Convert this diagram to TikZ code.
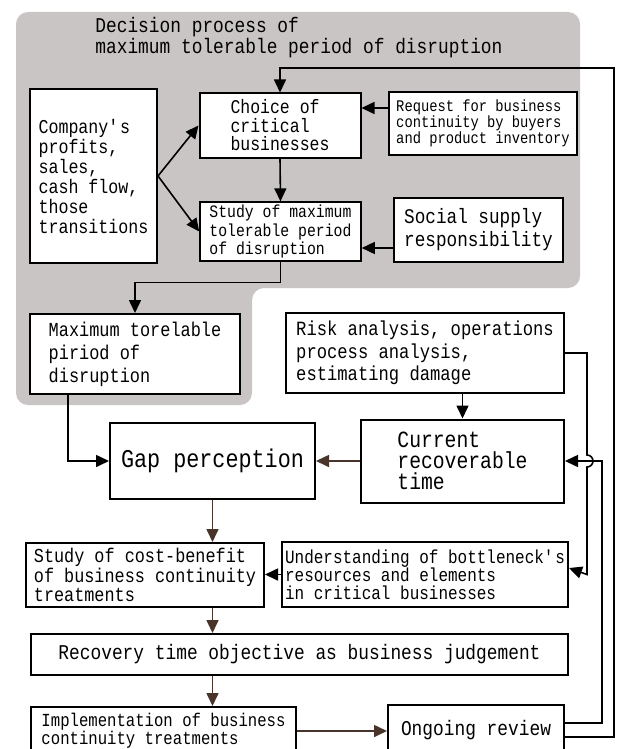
\documentclass[tikz,border=0pt]{standalone}
\usepackage{fontspec}
\newfontfamily\gothic{Liberation Mono}[FakeStretch=0.85]
\usepackage{tikz}
\usetikzlibrary{arrows.meta,positioning}
\definecolor{areagray}{RGB}{201,197,197}
\definecolor{flowbrown}{RGB}{72,52,42}
\newcommand{\fsz}[2]{\gothic\fontsize{#1}{#2}\selectfont}

\begin{document}
\begin{tikzpicture}[x=0.5pt, y=-0.5pt,
                box/.style={draw, line width=1pt, fill=white, inner sep=1.5pt, align=left},
                arr/.style={-{Triangle[length=6.5pt,width=6pt]}, line width=0.8pt},
                barr/.style={arr, flowbrown}
            ]
            \useasboundingbox (0,0) rectangle (618,749);

            % shaded decision area
            \fill[areagray, rounded corners=6pt] (16,12) -- (580,12) -- (580,288)
                -- (252,288) -- (252,405) -- (16,405) -- cycle;
            \node[anchor=west, inner sep=0pt, align=left, font=\fsz{10.5}{9.2}] (title) at (95,37.5)
                {Decision process of\\maximum tolerable period of disruption};

            \node[box, minimum width=63.5pt, minimum height=87pt, font=\fsz{9.8}{10}] (comp) at (93.5,176)
                {Company\textquotesingle s\\profits,\\sales,\\cash flow,\\those\\transitions};
            \node[box, minimum width=80.5pt, minimum height=32pt, font=\fsz{9.7}{9.25}] (choice) at (280,125.5)
                {Choice of\\critical\\businesses};
            \node[box, minimum width=94pt, minimum height=31.5pt, font=\fsz{8.1}{8}] (req) at (483,123.5)
                {Request for business\\continuity by buyers\\and product inventory};
            \node[box, line width=0.8pt, minimum width=80.5pt, minimum height=27.5pt, font=\fsz{8.7}{8}] (study) at (280.5,231.5)
                {Study of maximum\\tolerable period\\of disruption};
            \node[box, minimum width=84.5pt, minimum height=32pt, font=\fsz{10.4}{11.5}] (social) at (478.5,230)
                {Social supply\\responsibility};
            \node[box, minimum width=105pt, minimum height=40pt, font=\fsz{9.95}{11.5}] (maxtol) at (135,354)
                {Maximum torelable\\piriod of\\disruption};
            \node[box, minimum width=139pt, minimum height=40pt, font=\fsz{10.1}{11.25}] (risk) at (425,353)
                {Risk analysis, operations\\process analysis,\\estimating damage};
            \node[box, minimum width=102.5pt, minimum height=38pt, font=\fsz{12.8}{14}] (gap) at (212.5,461)
                {Gap perception};
            \node[box, minimum width=101.5pt, minimum height=41.5pt, font=\fsz{11.6}{10.5}] (current) at (462.5,461)
                {Current\\recoverable\\time};
            \node[box, minimum width=119pt, minimum height=32pt, font=\fsz{9.9}{8.3}] (cost) at (145,575)
                {Study of cost-benefit\\of business continuity\\treatments};
            \node[box, minimum width=143pt, minimum height=32.5pt, font=\fsz{9.4}{9}] (under) at (425,574.5)
                {Understanding of bottleneck\textquotesingle s\\resources and elements\\in critical businesses};
            \node[box, minimum width=268.5pt, minimum height=20.5pt, font=\fsz{10.5}{11}] (rto) at (299.5,654.5)
                {Recovery time objective as business judgement};
            \node[box, minimum width=132.5pt, minimum height=24pt, font=\fsz{9.2}{9}] (impl) at (163.5,731)
                {Implementation of business\\continuity treatments};
            \node[box, minimum width=88pt, minimum height=25pt, font=\fsz{10.5}{11}] (review) at (476,730)
                {Ongoing review};

            \coordinate (cut) at (587,461);
            \coordinate (loopin) at (602,0);
            \coordinate (loopout) at (614,68);

            % inside the decision area
            \draw[arr] (comp.east) -- (choice.west);
            \draw[arr] (comp.east) -- (study.west);
            \draw[arr] (choice.south) -- (study.north);
            \draw[arr] ([yshift=7.75pt]req.west) -- ([yshift=7.75pt]req.west -| choice.east);
            \draw[arr] ([yshift=-9pt]social.west) -- ([yshift=-9pt]social.west -| study.east);
            \draw[arr] (study.south) -- ++(0,21) -| (maxtol.north);

            % towards the gap
            \draw[arr] ([xshift=-33.5pt]maxtol.south) |- (gap.west);
            \draw[arr] (risk.south -| current.north) -- (current.north);
            \draw[barr] (current.west) -- (gap.east);
            \draw[arr] (risk.east) -- (risk.east -| cut) -- ([yshift=3pt]cut)
                arc[start angle=90, end angle=-90, radius=3pt] -- (cut |- under.east)
                -- ([yshift=3.25pt]under.east) ;
            \draw[arr] (under.west) -- (under.west -| cost.east);

            % main chain
            \draw[barr] (gap.south) -- (gap.south |- cost.north);
            \draw[barr] (cost.south -| gap.south) -- (rto.north -| gap.south);
            \draw[barr] (rto.south -| gap.south) -- (impl.north -| gap.south);
            \draw[barr] (impl.east) -- (impl.east -| review.west);

            % review loops
            \draw[arr] ([yshift=3.5pt]review.east) -| (loopin |- current.east) -- (current.east);
            \draw[arr] ([yshift=-3.5pt]review.east) -| (loopout) -| (choice.north);
        \end{tikzpicture}
\end{document}
